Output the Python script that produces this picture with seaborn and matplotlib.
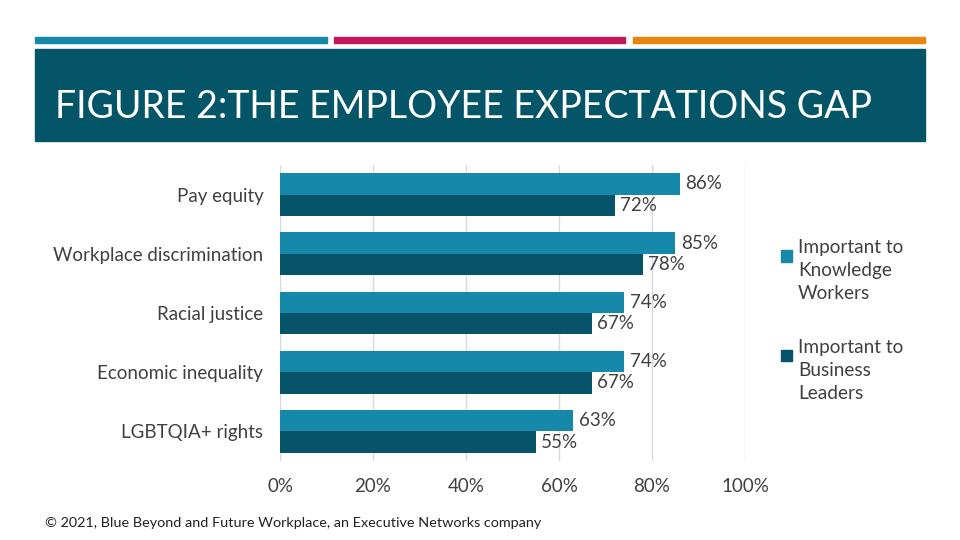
import matplotlib
matplotlib.use("Agg")
import matplotlib.pyplot as plt
import matplotlib.patches as mpatches
from matplotlib.legend_handler import HandlerPatch
import seaborn as sns
import pandas as pd

categories = ["Pay equity", "Workplace discrimination", "Racial justice",
              "Economic inequality", "LGBTQIA+ rights"]
knowledge_workers = [86, 85, 74, 74, 63]
business_leaders = [72, 78, 67, 67, 55]
series_names = ["Important to\nKnowledge\nWorkers", "Important to\nBusiness\nLeaders"]
x_ticks = [0, 20, 40, 60, 80, 100]
x_tick_labels = ["0%", "20%", "40%", "60%", "80%", "100%"]
title = "FIGURE 2:THE EMPLOYEE EXPECTATIONS GAP"
footer = "\u00a9 2021, Blue Beyond and Future Workplace, an Executive Networks company"

light = "#1688A9"
dark = "#06536A"
text_gray = "#404040"

df = pd.DataFrame({
    "category": categories * 2,
    "value": knowledge_workers + business_leaders,
    "series": [series_names[0]] * len(categories) + [series_names[1]] * len(categories),
})

sns.set_theme(style="white")
plt.rcParams["font.family"] = ["Lato", "DejaVu Sans"]

fig = plt.figure(figsize=(9.6, 5.4), dpi=100)
fig.patch.set_facecolor("white")

# decorative stripes and banner
for x0, x1, c in [(35, 327, "#1688A9"), (334, 625, "#C2185B"), (633, 925, "#E8850C")]:
    fig.patches.append(mpatches.Rectangle((x0 / 960, 1 - 43 / 540), (x1 - x0) / 960, 6 / 540,
                                          transform=fig.transFigure, color=c, zorder=1))
fig.patches.append(mpatches.Rectangle((35 / 960, 1 - 141 / 540), 890 / 960, 92 / 540,
                                      transform=fig.transFigure, color="#035567", zorder=1))
fig.text(55 / 960, 1 - 107 / 540, title, color="white", fontsize=27, va="center", ha="left")

ax = fig.add_axes([280 / 960, 1 - 461 / 540, 465 / 960, 296 / 540])
sns.barplot(data=df, y="category", x="value", hue="series", orient="h",
            palette=[light, dark], width=0.72, ax=ax, legend=False, saturation=1,
            linewidth=0, edgecolor="none")

for cont in ax.containers:
    vals = [int(round(b.get_width())) for b in cont]
    ax.bar_label(cont, labels=[f"{v}%" for v in vals], padding=4, fontsize=13.5, color=text_gray)

ax.set_xlim(0, 100)
ax.set_ylim(4.5, -0.5)
ax.set_xticks(x_ticks)
ax.set_xticklabels(x_tick_labels, fontsize=13.5, color=text_gray)
ax.tick_params(axis="y", labelsize=13.5, labelcolor=text_gray, length=0, pad=12)
ax.tick_params(axis="x", length=0, pad=12)
ax.set_xlabel("")
ax.set_ylabel("")
ax.grid(axis="x", color="#D9D9D9", linewidth=1)
ax.set_axisbelow(True)
for s in ax.spines.values():
    s.set_visible(False)


def top_square(legend, orig_handle, xdescent, ydescent, width, height, fontsize):
    sq = 0.6 * fontsize
    return mpatches.Rectangle((-xdescent, -ydescent + height - sq - 0.2 * fontsize), sq, sq)


handles = [mpatches.Patch(color=light), mpatches.Patch(color=dark)]
leg = fig.legend(handles, series_names, loc="upper left",
                 bbox_to_anchor=(781 / 960, 1 - 239 / 540),
                 frameon=False, fontsize=13.7, labelcolor=text_gray,
                 handlelength=0.6, handleheight=3.8, handletextpad=0.3,
                 labelspacing=1.95, borderaxespad=0, borderpad=0,
                 handler_map={mpatches.Patch: HandlerPatch(patch_func=top_square)})
for t in leg.get_texts():
    t.set_linespacing(1.42)

fig.text(45 / 960, 1 - 523 / 540, footer, fontsize=10.4, color="#222222", va="center", ha="left")

fig.savefig("out.png", dpi=100)
